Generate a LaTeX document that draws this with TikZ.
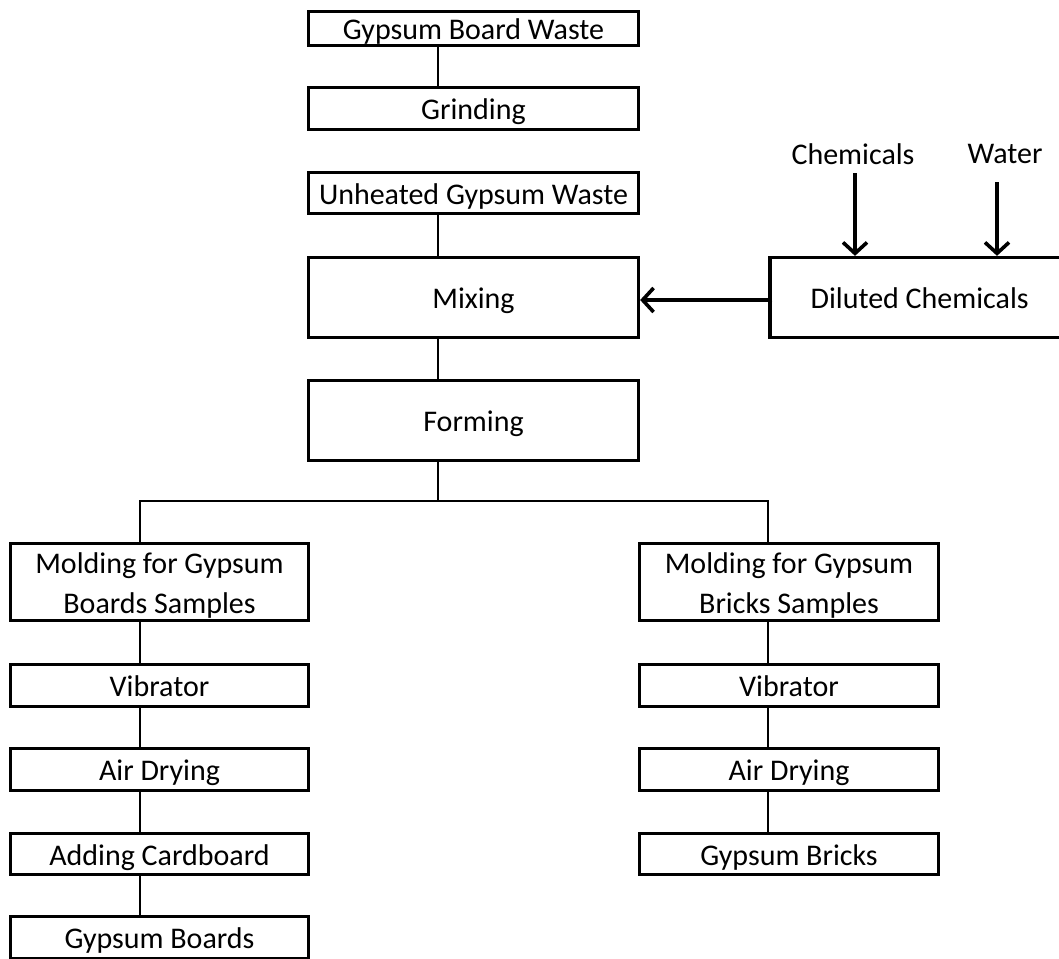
\documentclass[tikz,border=0pt]{standalone}
\usepackage{fontspec}
\setmainfont{Carlito}
\usetikzlibrary{arrows.meta}
\begin{document}
\begin{tikzpicture}[x=1pt,y=-1pt,
  boxbase/.style={draw=black, line width=3.3pt, fill=white, inner sep=0pt,
    align=center, font=\fontsize{30}{40}\selectfont},
  box/.style={boxbase, text height=23.5pt, text depth=1pt},
  tallbox/.style={boxbase},
  link/.style={line width=1.4pt},
  arr/.style={line width=3.6pt, -{Straight Barb[length=11pt,width=24pt,line width=3.6pt]}},
  lbl/.style={inner sep=0pt, font=\fontsize{30}{40}\selectfont}]
\useasboundingbox (0,0) rectangle (1059,958);
% top column
\node[box, minimum width=330pt, minimum height=34pt] (gbw) at (473.5,28.5) {Gypsum Board Waste};
\node[box, minimum width=330pt, minimum height=42pt] (grind) at (473.5,108.5) {Grinding};
\node[box, minimum width=330pt, minimum height=41pt] (unh) at (473.5,193) {Unheated Gypsum Waste};
\node[box, minimum width=330pt, minimum height=80pt] (mix) at (473.5,297.5) {Mixing};
\node[box, minimum width=330pt, minimum height=80pt] (form) at (473.5,420.5) {Forming};
\node[box, minimum width=299.4pt, minimum height=80pt, anchor=west] (dil) at (768.3,297.5) {Diluted Chemicals};
\node[lbl] (chem) at (853,154) {Chemicals};
\node[lbl] (wat) at (1005,154) {Water};
% left column
\node[tallbox, minimum width=298pt, minimum height=77pt] (ml) at (159.5,582) {\rule{0pt}{27pt}Molding for Gypsum\\Boards Samples};
\node[box, minimum width=298pt, minimum height=42pt] (vl) at (159.5,685.5) {Vibrator};
\node[box, minimum width=298pt, minimum height=42pt] (al) at (159.5,769.5) {Air Drying};
\node[box, minimum width=298pt, minimum height=41pt] (cl) at (159.5,854) {Adding Cardboard};
\node[box, minimum width=298pt, minimum height=42pt] (gl) at (159.5,937.5) {Gypsum Boards};
% right column
\node[tallbox, minimum width=299pt, minimum height=77pt] (mr) at (789,582) {\rule{0pt}{27pt}Molding for Gypsum\\Bricks Samples};
\node[box, minimum width=299pt, minimum height=42pt] (vr) at (789,685.5) {Vibrator};
\node[box, minimum width=299pt, minimum height=42pt] (ar) at (789,769.5) {Air Drying};
\node[box, minimum width=299pt, minimum height=41pt] (gr) at (789,854) {Gypsum Bricks};
% spines
\coordinate (sp) at (438,0);
\coordinate (spl) at (140,0);
\coordinate (spr) at (768,0);
\coordinate (br) at (0,501);
\draw[link] (gbw.south -| sp) -- (grind.north -| sp);
\draw[link] (unh.south -| sp) -- (mix.north -| sp);
\draw[link] (mix.south -| sp) -- (form.north -| sp);
\draw[link] (form.south -| sp) -- (br -| sp);
\draw[link] (ml.north -| spl) -- (br -| spl) -- (br -| spr) -- (mr.north -| spr);
\draw[link] (ml.south -| spl) -- (vl.north -| spl);
\draw[link] (vl.south -| spl) -- (al.north -| spl);
\draw[link] (al.south -| spl) -- (cl.north -| spl);
\draw[link] (cl.south -| spl) -- (gl.north -| spl);
\draw[link] (mr.south -| spr) -- (vr.north -| spr);
\draw[link] (vr.south -| spr) -- (ar.north -| spr);
\draw[link] (ar.south -| spr) -- (gr.north -| spr);
% arrows
\coordinate (ct) at (855,173);
\coordinate (wt) at (997,182);
\draw[arr] (ct) -- (ct |- dil.north);
\draw[arr] (wt) -- (wt |- dil.north);
\draw[arr] ([xshift=4pt,yshift=-2.5pt]dil.west) -- ([yshift=-2.5pt]mix.east);
\end{tikzpicture}
\end{document}
